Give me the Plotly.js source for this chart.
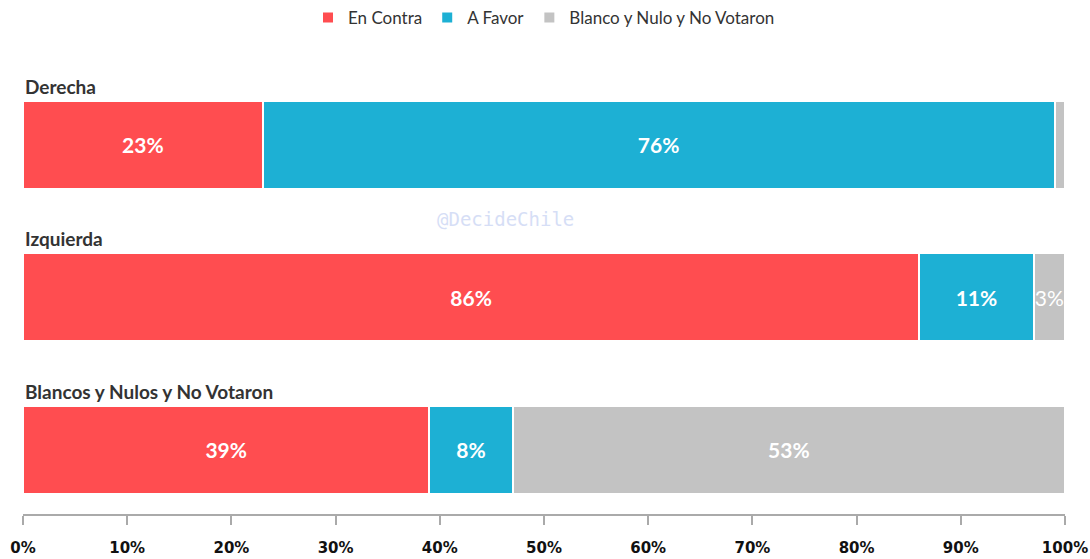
<!DOCTYPE html>
<html>
<head>
<meta charset="utf-8">
<script src="https://cdn.plot.ly/plotly-3.0.1.min.js"></script>
<style>html,body{margin:0;padding:0;background:#fff;}#chart{width:1090px;height:559px;}</style>
</head>
<body>
<div id="chart"></div>
<script>
var categories = ['Derecha', 'Izquierda', 'Blancos y Nulos y No Votaron'];
var seriesNames = ['En Contra', 'A Favor', 'Blanco y Nulo y No Votaron'];
var enContra = [23, 86, 39];
var aFavor = [76, 11, 8];
var blancoNulo = [1, 3, 53];
var tickVals = [0, 0.1, 0.2, 0.3, 0.4, 0.5, 0.6, 0.7, 0.8, 0.9, 1.0];
var tickLabels = ['0%', '10%', '20%', '30%', '40%', '50%', '60%', '70%', '80%', '90%', '100%'];

var colors = ['#FF4D50', '#1DB0D4', '#C3C3C3'];
var series = [enContra, aFavor, blancoNulo];
var BARWIDTH = 0.577;

function label(v) {
  if (v >= 5) return '<b>' + v + '%</b>';
  if (v >= 2) return v + '%';
  return '';
}

var idx = categories.map(function (c, i) { return i; });

var traces = series.map(function (vals, s) {
  return {
    type: 'bar',
    orientation: 'h',
    name: seriesNames[s],
    y: idx,
    x: vals.map(function (v) { return v / 100; }),
    width: BARWIDTH,
    marker: { color: colors[s], line: { color: '#ffffff', width: 2 } },
    text: vals.map(label),
    texttemplate: '%{text}',
    textposition: 'inside',
    insidetextanchor: 'middle',
    constraintext: 'none',
    textangle: 0,
    textfont: { family: 'Lato, "Open Sans", sans-serif', size: 21, color: '#ffffff' },
    hoverinfo: 'skip'
  };
});

var annotations = categories.map(function (c, i) {
  return {
    text: '<b>' + c + '</b>',
    xref: 'paper', yref: 'y',
    x: 0, y: i - BARWIDTH / 2,
    xanchor: 'left', yanchor: 'bottom',
    yshift: 1,
    showarrow: false,
    font: { family: 'Lato, "Open Sans", sans-serif', size: 19, color: '#333333' }
  };
});
annotations.push({
  text: '@DecideChile',
  xref: 'paper', yref: 'paper',
  x: 0.463, y: 0.65,
  xanchor: 'center', yanchor: 'middle',
  showarrow: false,
  font: { family: '"DejaVu Sans Mono", monospace', size: 19, color: '#D6DEF6' }
});

var layout = {
  width: 1090, height: 559,
  margin: { l: 23, r: 25, t: 60, b: 45 },
  paper_bgcolor: '#ffffff',
  plot_bgcolor: '#ffffff',
  barmode: 'stack',
  showlegend: true,
  legend: {
    orientation: 'h',
    x: 0.5, xanchor: 'center',
    y: 1, yref: 'container', yanchor: 'top',
    font: { family: 'Lato, "Open Sans", sans-serif', size: 17, color: '#333333' },
    itemwidth: 30,
    traceorder: 'normal'
  },
  xaxis: {
    range: [0, 1],
    tickvals: tickVals,
    ticktext: tickLabels,
    ticks: 'outside',
    ticklen: 9,
    tickwidth: 2,
    tickcolor: '#AAAAAA',
    showline: true,
    linecolor: '#AAAAAA',
    linewidth: 2,
    showgrid: false,
    zeroline: false,
    ticklabelstandoff: 10,
    tickfont: { family: '"DejaVu Sans", sans-serif', size: 15, color: '#111111', weight: 'bold' },
    fixedrange: true
  },
  yaxis: {
    range: [2.42, -0.557],
    showticklabels: false,
    showgrid: false,
    zeroline: false,
    showline: false,
    ticks: '',
    fixedrange: true
  },
  annotations: annotations
};

Plotly.newPlot('chart', traces, layout, { displayModeBar: false, staticPlot: true });
</script>
</body>
</html>
